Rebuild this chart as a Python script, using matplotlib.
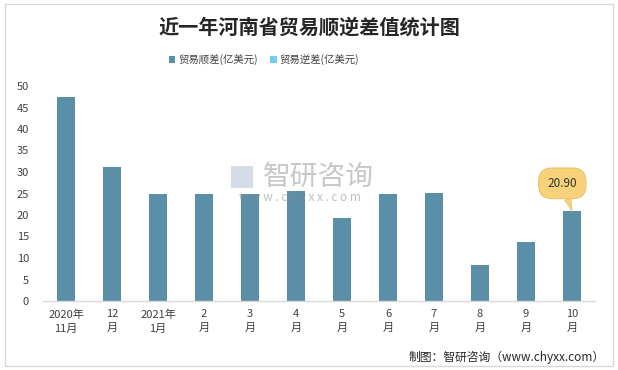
import matplotlib
matplotlib.use("Agg")
import matplotlib.pyplot as plt
from matplotlib.patches import Rectangle

plt.rcParams['font.family'] = ['Noto Sans CJK SC', 'DejaVu Sans']

# data
months = ["2020年\n11月", "12\n月", "2021年\n1月", "2\n月", "3\n月", "4\n月",
          "5\n月", "6\n月", "7\n月", "8\n月", "9\n月", "10\n月"]
surplus = [47.5, 31.2, 24.9, 24.9, 24.9, 25.6, 19.4, 24.9, 25.1, 8.4, 13.8, 20.9]
deficit = [0] * len(months)
yticks = list(range(0, 51, 5))
last_label = "20.90"

bar_color = "#5B8FA8"
deficit_color = "#6DCDF3"
text_color = "#404040"

fig = plt.figure(figsize=(6.18, 3.70), dpi=100)
W, H = 618, 370

# outer frame
fig.patches.append(Rectangle((5 / W, 4 / H), 608 / W, 362 / H, transform=fig.transFigure,
                             fill=False, ec="#D9D9D9", lw=1))

ax = fig.add_axes([43 / W, 1 - 301 / H, (595 - 43) / W, (301 - 86) / H])
x = list(range(len(months)))
ax.bar(x, surplus, width=0.41, color=bar_color, label="贸易顺差(亿美元)", zorder=2)
ax.bar(x, deficit, width=0.41, color=deficit_color, label="贸易逆差(亿美元)", zorder=2)

ax.set_xlim(-0.5, len(months) - 0.5)
ax.set_ylim(0, 50)
ax.set_yticks(yticks)
ax.set_xticks(x)
ax.set_xticklabels(months, fontsize=8, color=text_color, linespacing=1.5)
ax.tick_params(axis='y', labelsize=8, labelcolor=text_color, length=0, pad=10)
ax.tick_params(axis='x', length=0, pad=6)
for side in ["top", "right", "left"]:
    ax.spines[side].set_visible(False)
ax.spines["bottom"].set_color("#D9D9D9")
ax.spines["bottom"].set_linewidth(1)

# callout on the last bar
ax.annotate(last_label, xy=(x[-1], surplus[-1]), xytext=(-7, 20), textcoords="offset points",
            ha="center", va="center", fontsize=8.5, color="#333333",
            bbox=dict(boxstyle="round,pad=0.75,rounding_size=1.15", fc="#F8D27A", ec="#E8C56E", lw=0.8),
            arrowprops=dict(arrowstyle="wedge,tail_width=0.55,shrink_factor=0.5", fc="#F8D27A",
                            ec="#E8C56E", lw=0.6, shrinkA=0, shrinkB=0),
            zorder=5)

# watermark
fig.text(318 / W, 1 - 177 / H, "智研咨询", fontsize=20, color="#9A9A9A", alpha=0.55,
         ha="center", va="center")
fig.text(300 / W, 1 - 197 / H, "w w w . c h y x x . c o m", fontsize=8.5, color="#8A8A8A",
         alpha=0.55, ha="center", va="center")
fig.patches.append(Rectangle((231 / W, 1 - 188 / H), 22 / W, 22 / H, transform=fig.transFigure,
                             fc="#B9C6DA", ec="none", alpha=0.6))

fig.text(309 / W, 1 - 27 / H, "近一年河南省贸易顺逆差值统计图", fontsize=14.5, fontweight="bold",
         color="#262626", ha="center", va="center")

leg = ax.legend(loc="center", bbox_to_anchor=(264 / W, 1 - 60 / H), bbox_transform=fig.transFigure,
                ncol=2, frameon=False, fontsize=7.5, handlelength=0.6, handleheight=0.6,
                handletextpad=0.3, columnspacing=1.2)
for t in leg.get_texts():
    t.set_color(text_color)

fig.text(605 / W, 1 - 357 / H, "制图：智研咨询（www.chyxx.com）", fontsize=8.5, color="#262626",
         ha="right", va="center")

fig.savefig("out.png", dpi=100)
